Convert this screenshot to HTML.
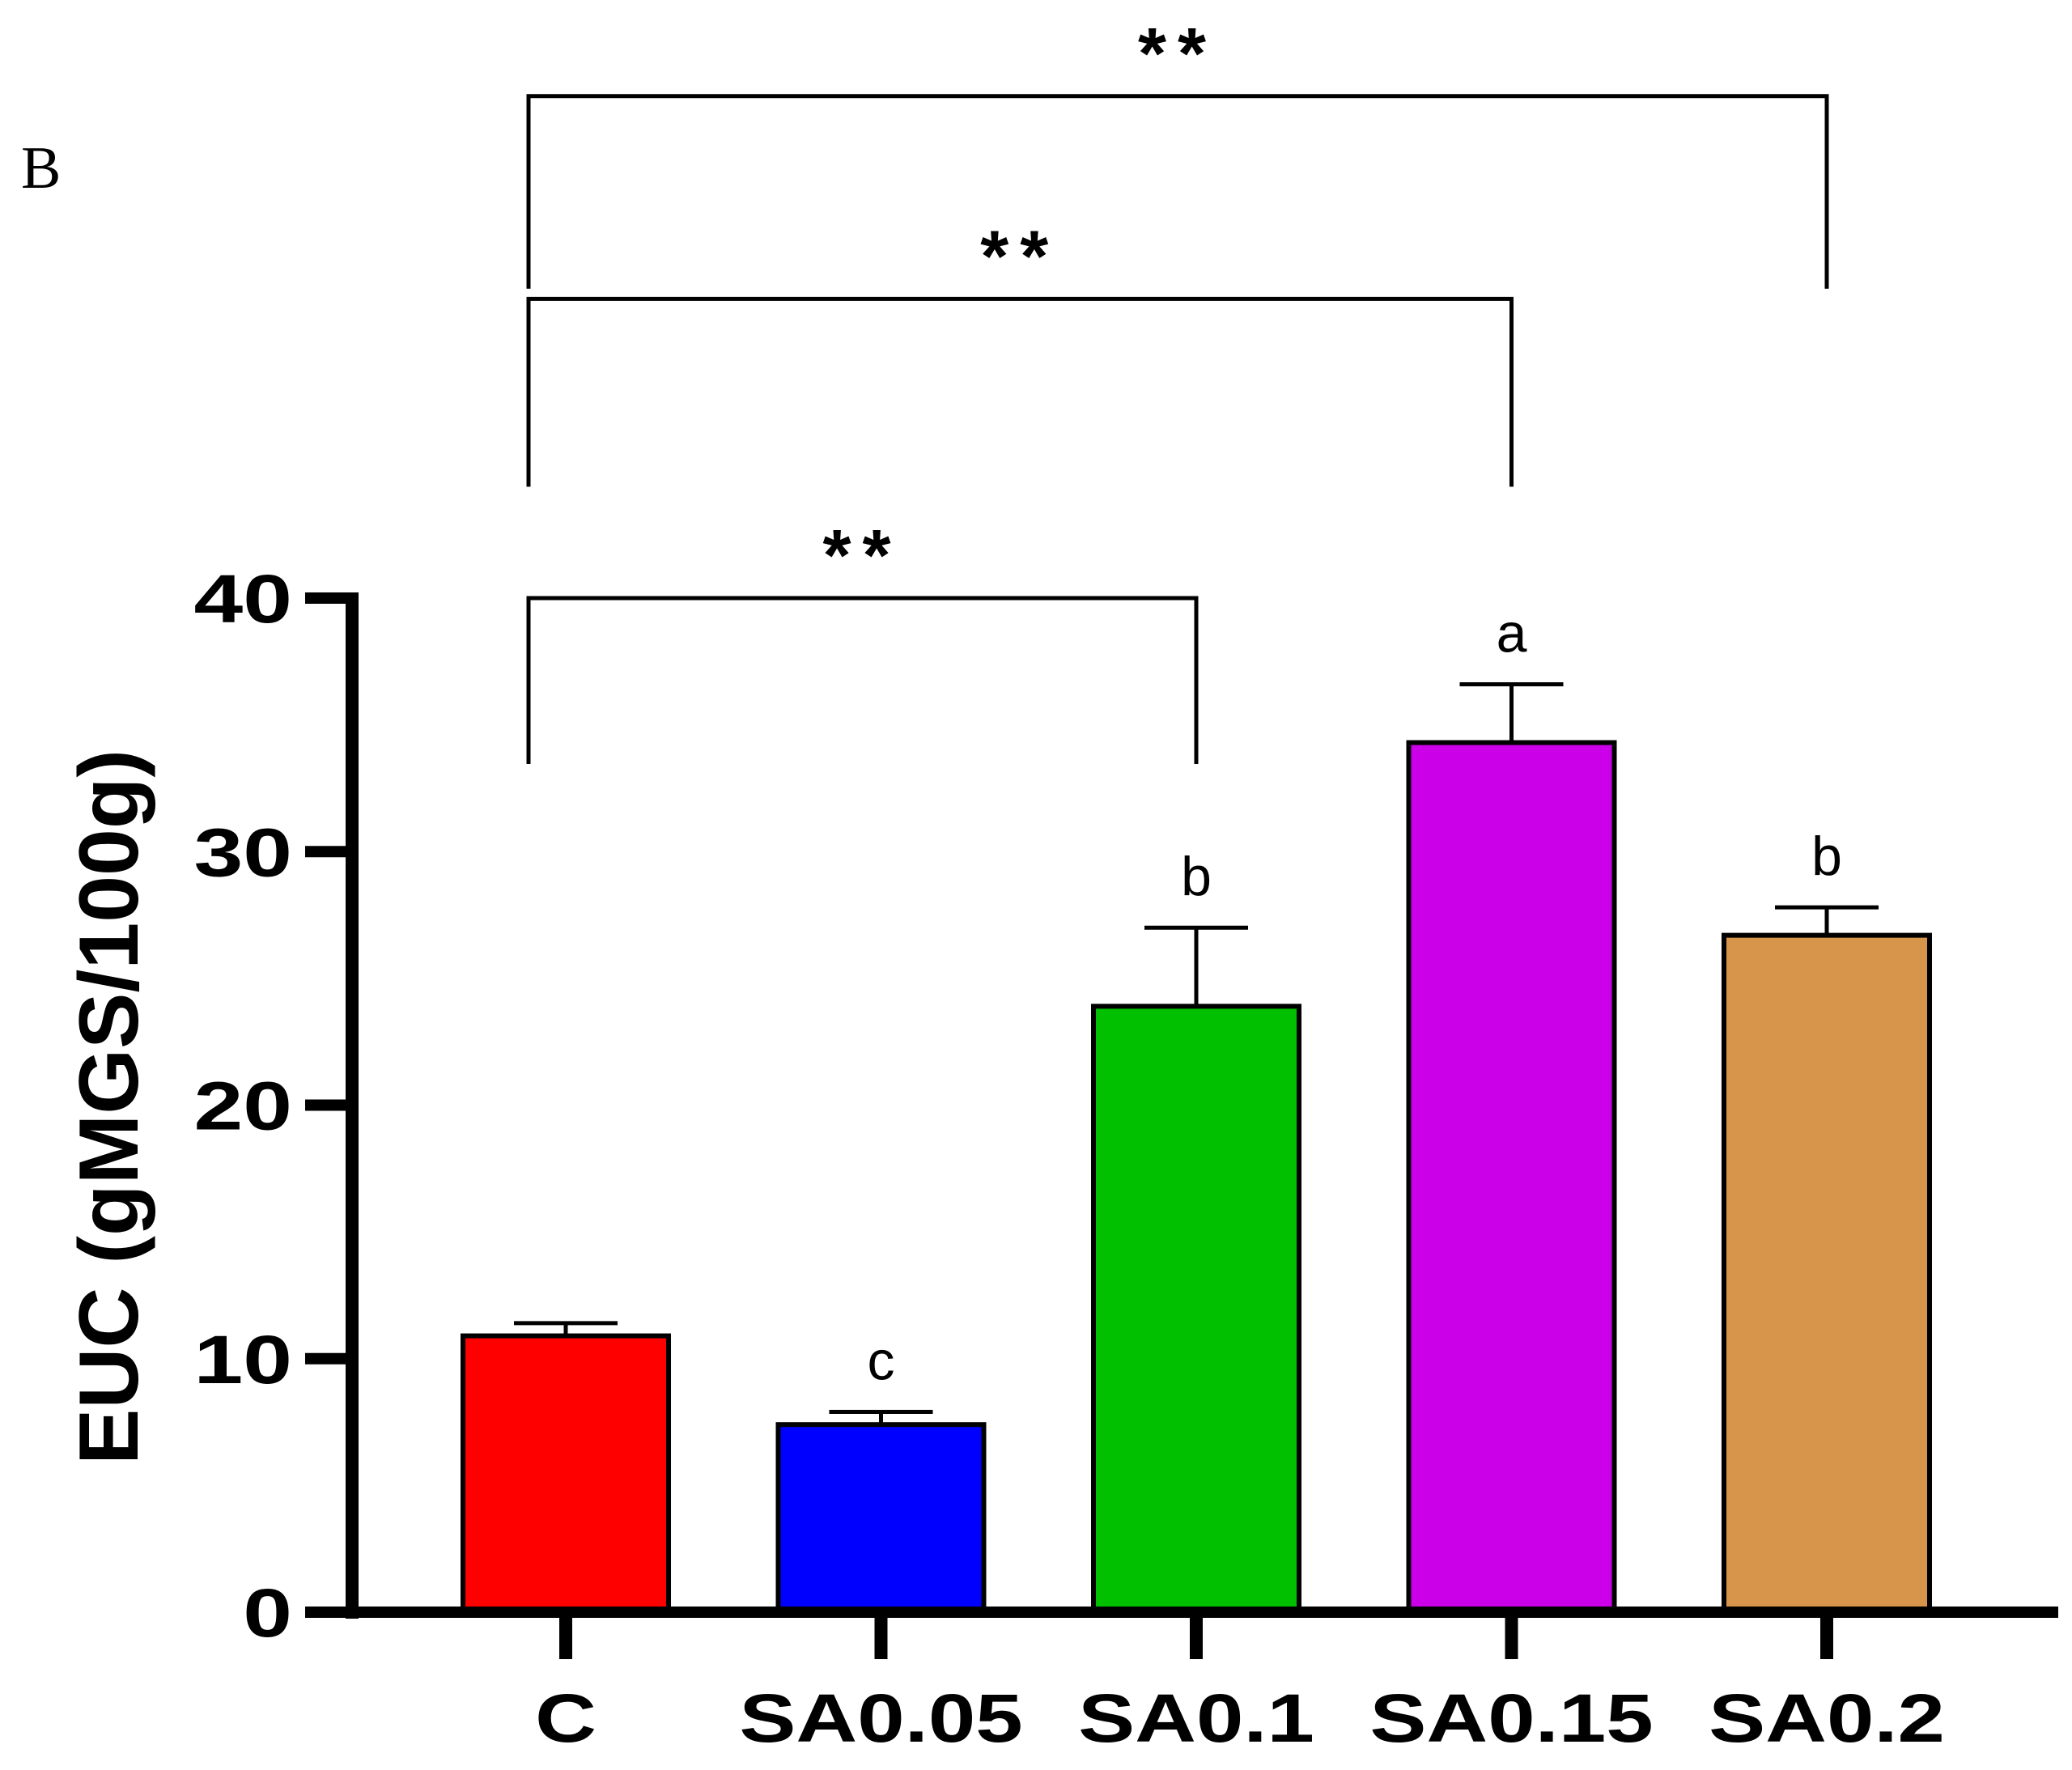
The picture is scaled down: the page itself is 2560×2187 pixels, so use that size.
<!DOCTYPE html>
<html><head><meta charset="utf-8"><style>
html,body{margin:0;padding:0;background:#fff;}
svg text{font-family:"Liberation Sans",Arial,sans-serif;}
</style></head><body>
<svg id="chart" width="2560" height="2182" viewBox="0 0 2560 2182" xmlns="http://www.w3.org/2000/svg">
<text x="26" y="232" style="font-family:'Liberation Serif',serif" font-size="74">B</text>
<g id="plot"></g>
</svg>
<script>
const categories = ["C","SA0.05","SA0.1","SA0.15","SA0.2"];
const values = [10.9, 7.4, 23.9, 34.3, 26.7];
const errors = [0.5, 0.5, 3.1, 2.3, 1.1];
const letters = ["", "c", "b", "a", "b"];
const colors = ["#ff0000","#0000ff","#00c000","#cc00e8","#d6954a"];
const yTicks = [0,10,20,30,40];
const brackets = [[0,2,40],[0,3,51.8],[0,4,59.8]];

const NS="http://www.w3.org/2000/svg";
const g=document.getElementById('plot');
const y0=1992, perUnit=(1992-739)/40;
function yS(v){return y0-v*perUnit;}
function xS(i){return 699+i*389.5;}
const barW=254;
function mk(tag,attrs,parent){const e=document.createElementNS(NS,tag);for(const k in attrs)e.setAttribute(k,attrs[k]);(parent||g).appendChild(e);return e;}

categories.forEach((c,i)=>{
  const v=values[i],cx=xS(i);
  const eb=mk('g',{});
  
  
  mk('line',{x1:cx,x2:cx,y1:yS(v),y2:yS(v+errors[i]),stroke:'#000','stroke-width':5},eb);
  mk('line',{x1:cx-64,x2:cx+64,y1:yS(v+errors[i]),y2:yS(v+errors[i]),stroke:'#000','stroke-width':5},eb);
  const r=mk('rect',{x:cx-barW/2,y:yS(v),width:barW,height:y0-yS(v),fill:colors[i],stroke:'#000','stroke-width':6});
  
  
  if(letters[i]){
    const t=mk('text',{x:cx,y:yS(v+errors[i])-40,'text-anchor':'middle','font-size':68});
    t.textContent=letters[i];
    
    
  }
  const tk=mk('line',{x1:cx,x2:cx,y1:y0,y2:2050,stroke:'#000','stroke-width':16});
  
  
  const lb=mk('text',{x:0,y:0,'text-anchor':'middle','font-size':84,'font-weight':'bold',transform:`translate(${cx},2152) scale(1.25,1)`});
  lb.textContent=c;
  
  
});

yTicks.forEach(v=>{
  const tk=mk('line',{x1:377,x2:435,y1:yS(v),y2:yS(v),stroke:'#000','stroke-width':14});
  
  
  const t=mk('text',{x:0,y:0,'text-anchor':'end','font-size':84,'font-weight':'bold',transform:`translate(361,${yS(v)+30}) scale(1.3,1)`});
  t.textContent=v;
  
  
});

const ya=mk('line',{x1:435,x2:435,y1:732,y2:2000,stroke:'#000','stroke-width':16});


const xa=mk('line',{x1:377,x2:2543,y1:y0,y2:y0,stroke:'#000','stroke-width':14});



const yt=mk('text',{x:0,y:0,'text-anchor':'middle','font-size':104,'font-weight':'bold',transform:'translate(170,1368) rotate(-90)'});
yt.textContent='EUC (gMGS/100g)';



brackets.forEach(([a,b,top])=>{
  const yt2=yS(top), xa1=xS(a)-46, xb=xS(b);
  const drop = (b===2)?205:(b===3?232:238);
  const br=mk('path',{d:`M${xa1},${yt2+drop} V${yt2} H${xb} V${yt2+drop}`,fill:'none',stroke:'#000','stroke-width':5});
  
  
  const s=mk('text',{x:(xa1+xb)/2,y:yt2-22,'text-anchor':'middle','font-size':90,'font-weight':'bold','letter-spacing':'14'});
  s.textContent='**';
  
  
});
</script>
</body></html>
